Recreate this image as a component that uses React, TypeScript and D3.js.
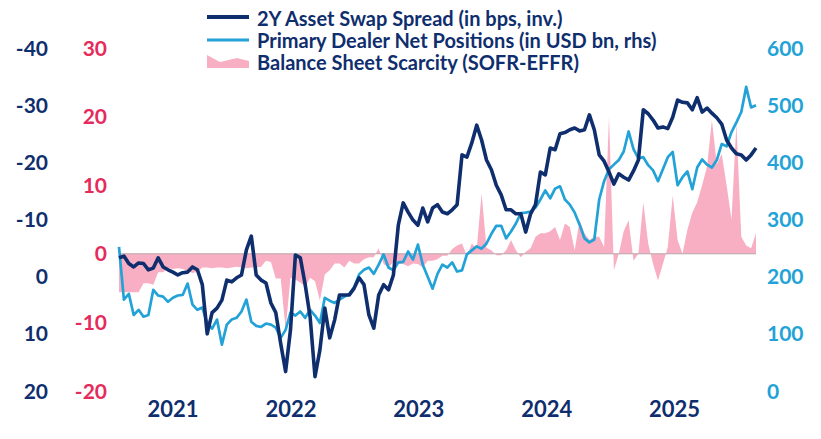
import * as d3 from "d3";

// biweekly observations starting late Feb 2021
const startDate = new Date(2021, 1, 26);
const stepDays = 14;

// 2Y asset swap spread, bps (plotted on an inverted axis)
const aswSpread = [
  -3.3, -3.6, -2.3, -1.7, -2.4, -2.3, -1.2, -1.5, -3.3, -1.7,
  -1.2, -0.8, -0.3, -0.7, -0.8, -1.7, -1.2, 1.4, 10.0, 6.3,
  5.5, 4.1, 0.6, 0.9, 0.2, -0.3, -4.7, -7.1, -0.3, 0.6,
  1.1, 4.6, 6.3, 11.7, 16.6, 9.3, -3.8, -3.3, 1.4, 7.0,
  17.5, 12.8, 5.5, 10.7, 7.6, 3.2, 3.2, 3.2, 2.0, 0.2,
  1.4, 6.7, 9.0, 3.2, 1.4, 2.3, -0.3, -9.0, -12.9, -11.3,
  -9.9, -9.0, -12.0, -9.6, -12.0, -12.6, -11.3, -11.0, -11.7, -12.6,
  -21.3, -20.9, -23.4, -26.5, -23.9, -20.4, -18.7, -16.0, -14.3, -11.7,
  -11.7, -11.0, -11.0, -7.8, -11.0, -12.6, -18.3, -17.8, -22.5, -22.2,
  -25.0, -25.2, -25.7, -26.0, -25.5, -25.7, -28.3, -25.7, -21.3, -20.2,
  -18.3, -16.2, -18.0, -17.4, -16.9, -18.5, -20.4, -29.2, -28.5, -27.4,
  -26.0, -26.2, -25.9, -27.9, -30.9, -30.5, -30.4, -29.2, -31.3, -28.8,
  -29.5, -28.6, -27.8, -26.7, -23.9, -22.5, -21.5, -21.3, -20.4, -21.3,
  -22.5,
];

// primary dealer net positions, USD bn (right axis)
const dealerPositions = [
  252, 160, 170, 133, 142, 130, 133, 177, 167, 165,
  156, 163, 167, 168, 188, 151, 142, 146, 119, 109,
  125, 81, 116, 125, 128, 139, 160, 121, 114, 112,
  118, 116, 111, 93, 107, 137, 132, 139, 128, 142,
  132, 119, 163, 158, 154, 160, 165, 170, 181, 204,
  212, 216, 205, 221, 239, 216, 211, 225, 226, 244,
  230, 256, 221, 200, 179, 205, 221, 216, 225, 209,
  211, 239, 246, 253, 249, 258, 275, 289, 289, 267,
  279, 293, 311, 312, 314, 321, 335, 351, 337, 354,
  358, 335, 326, 312, 291, 267, 260, 265, 335, 367,
  388, 396, 404, 419, 454, 423, 407, 409, 395, 386,
  367, 388, 409, 418, 360, 374, 384, 353, 391, 405,
  396, 391, 404, 432, 428, 453, 470, 488, 532, 496,
  500,
];

// SOFR minus EFFR, bps (inner left axis)
const sofrEffr = [
  -5.6, -5.6, -5.6, -5.6, -5.6, -4.3, -4.3, -4.5, -2.7, -2.7,
  -2.1, -2.2, -2.1, -2.2, -2.5, -2.8, -2.6, -2.0, -2.0, -2.1,
  -2.0, -2.0, -2.1, -2.0, -1.9, -2.0, -2.1, -2.0, -2.0, -1.9,
  -1.0, -1.2, -3.6, -3.6, -11.0, -3.5, -3.8, -4.2, -4.8, -3.5,
  -4.0, -6.8, -3.0, -2.4, -1.4, -1.4, -2.0, -1.0, -1.4, -1.4,
  -0.8, -0.5, -0.5, 0.8, -1.5, -2.0, -1.2, -1.5, -1.5, -1.8,
  -1.4, -1.5, -2.0, -1.0, -1.0, -0.8, -0.3, -0.3, 0.7, 1.2,
  1.5, -0.3, 1.5, 0.7, 8.8, 0.9, 0.5, -0.2, -0.2, 0.5,
  2.0, 0.5, -0.5, 0.3, 0.8, 2.5, 3.0, 3.0, 3.3, 3.9,
  2.0, 4.4, 3.9, 0.5, 4.9, 3.0, 2.0, 2.5, 2.5, 1.0,
  20.0, -2.4, 0.0, 3.3, 4.9, -1.0, 0.0, 7.5, 1.5, -1.5,
  -3.9, -1.5, 1.0, 8.5, 2.0, 0.0, 3.5, 6.0, 7.5, 10.0,
  12.7, 19.5, 13.0, 14.6, 10.0, 5.0, 19.0, 2.5, 1.2, 0.8,
  3.0,
];

const aswTicks = [-40, -30, -20, -10, 0, 10, 20];
const scarcityTicks = [-20, -10, 0, 10, 20, 30];
const dealerTicks = [0, 100, 200, 300, 400, 500, 600];
const years = [2021, 2022, 2023, 2024, 2025];
const legendLabels = [
  "2Y Asset Swap Spread (in bps, inv.)",
  "Primary Dealer Net Positions (in USD bn, rhs)",
  "Balance Sheet Scarcity (SOFR-EFFR)",
];

const W = 821;
const H = 439;
const NAVY = "#0f2e6e";
const TEAL = "#22a2d6";
const PINK = "#f8afc3";
const RED = "#e52a5c";
const FONT = "Lato, 'Open Sans', sans-serif";

export default function App() {
  const dates = aswSpread.map((_, i) => d3.timeDay.offset(startDate, i * stepDays));
  const x = d3
    .scaleTime()
    .domain([dates[0], dates[dates.length - 1]])
    .range([119, 756]);
  const yAsw = d3.scaleLinear().domain([-40, 20]).range([48, 391]);
  const yScarcity = d3.scaleLinear().domain([-20, 30]).range([391, 48]);
  const yDealer = d3.scaleLinear().domain([0, 600]).range([391, 48]);

  const aswLine = d3
    .line<number>()
    .x((_, i) => x(dates[i]))
    .y((d) => yAsw(d));
  const dealerLine = d3
    .line<number>()
    .x((_, i) => x(dates[i]))
    .y((d) => yDealer(d));
  const scarcityArea = d3
    .area<number>()
    .x((_, i) => x(dates[i]))
    .y0(yScarcity(0))
    .y1((d) => yScarcity(d));

  // year labels sit in the middle of the visible part of each year
  const [d0, d1] = x.domain();
  const yearMid = (yr: number) => {
    const a = Math.max(+d0, +new Date(yr, 0, 1));
    const b = Math.min(+d1, +new Date(yr + 1, 0, 1));
    return (x(new Date(a)) + x(new Date(b))) / 2;
  };

  const legendX = 257;
  const legendBase = [26, 48, 70];

  return (
    <svg
      width={W}
      height={H}
      viewBox={`0 0 ${W} ${H}`}
      style={{ position: "absolute", left: 0, top: 0, background: "#fff" }}
      fontFamily={FONT}
    >
      <rect width={W} height={H} fill="#fff" />

      <path d={scarcityArea(sofrEffr) ?? ""} fill={PINK} />
      <line
        x1={x(d0)}
        x2={x(d1)}
        y1={yScarcity(0)}
        y2={yScarcity(0)}
        stroke="#b8a7ac"
        strokeWidth={1}
      />
      <path
        d={dealerLine(dealerPositions) ?? ""}
        fill="none"
        stroke={TEAL}
        strokeWidth={2.7}
        strokeLinejoin="round"
      />
      <path
        d={aswLine(aswSpread) ?? ""}
        fill="none"
        stroke={NAVY}
        strokeWidth={3.6}
        strokeLinejoin="round"
      />

      {/* outer left axis: asset swap spread */}
      {aswTicks.map((t) => (
        <text
          key={`a${t}`}
          x={48}
          y={yAsw(t)}
          dy="0.36em"
          textAnchor="end"
          fill={NAVY}
          fontSize={21}
          fontWeight={700}
        >
          {t}
        </text>
      ))}

      {/* inner left axis: SOFR-EFFR */}
      {scarcityTicks.map((t) => (
        <text
          key={`s${t}`}
          x={107}
          y={yScarcity(t)}
          dy="0.36em"
          textAnchor="end"
          fill={RED}
          fontSize={21}
          fontWeight={700}
        >
          {t}
        </text>
      ))}

      {/* right axis: dealer positions */}
      {dealerTicks.map((t) => (
        <text
          key={`d${t}`}
          x={767}
          y={yDealer(t)}
          dy="0.36em"
          textAnchor="start"
          fill={TEAL}
          fontSize={21}
          fontWeight={700}
        >
          {t}
        </text>
      ))}

      {years.map((yr) => (
        <text
          key={yr}
          x={yearMid(yr)}
          y={417}
          textAnchor="middle"
          fill={NAVY}
          fontSize={22}
          fontWeight={700}
        >
          {yr}
        </text>
      ))}

      {/* legend */}
      <line x1={207} x2={249} y1={17} y2={17} stroke={NAVY} strokeWidth={4} />
      <line x1={207} x2={249} y1={40} y2={40} stroke={TEAL} strokeWidth={3} />
      <path
        d="M207,55 L220,62 L237,58 L249,61 L249,68 L207,68 Z"
        fill={PINK}
      />
      {legendLabels.map((label, i) => (
        <text
          key={label}
          x={legendX}
          y={legendBase[i]}
          fill={NAVY}
          fontSize={20}
          fontWeight={700}
        >
          {label}
        </text>
      ))}
    </svg>
  );
}
